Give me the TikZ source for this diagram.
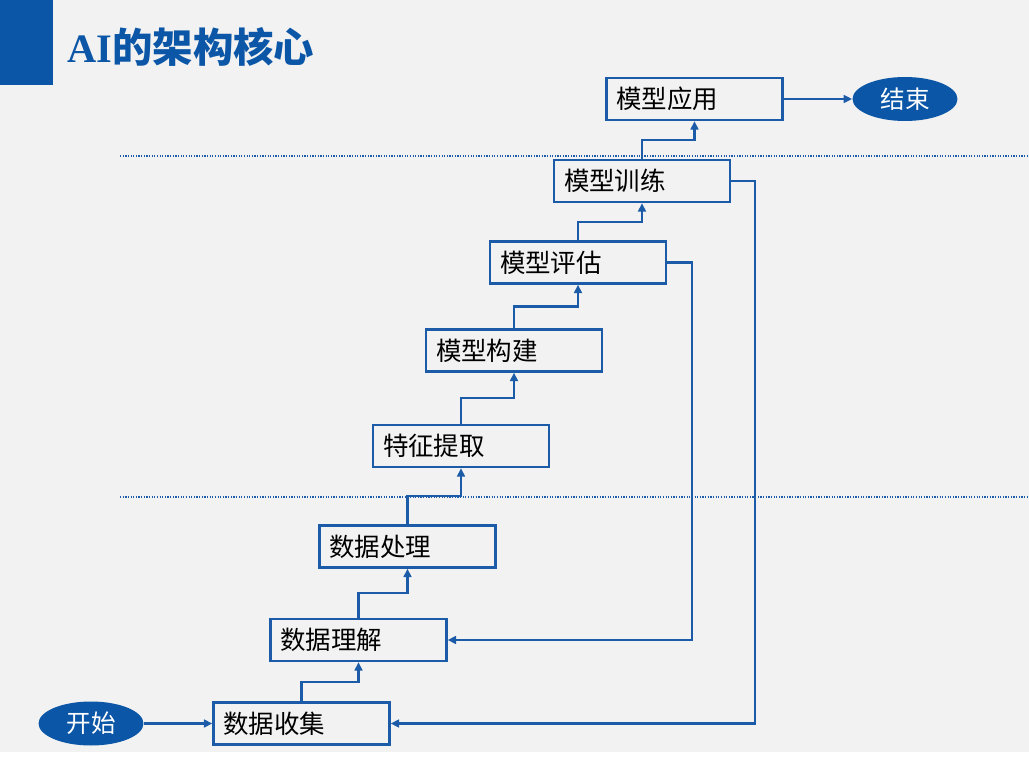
\documentclass[tikz,border=0pt]{standalone}
\usepackage{fontspec}
\usepackage{xcolor}
\newfontfamily\cjk{Noto Sans CJK SC}
\newfontfamily\titleserif{Liberation Serif}
\usetikzlibrary{arrows.meta,shapes.geometric,calc}
\definecolor{deckblue}{HTML}{0B56A6}
\definecolor{lineblue}{HTML}{1C5BA8}
\definecolor{slidebg}{HTML}{F2F2F2}
\tikzset{
  stage/.style={draw=lineblue, line width=1.3pt, minimum width=3.52cm, minimum height=0.84cm,
    text width=3.12cm, inner xsep=0.2cm, align=left, font=\cjk\fontsize{14.5}{16}\selectfont},
  terminal/.style={ellipse, fill=deckblue, minimum width=2.1cm, minimum height=0.88cm, inner sep=0pt,
    text=white, font=\cjk\fontsize{14}{15}\selectfont},
  flow/.style={draw=lineblue, line width=1.2pt, -{Triangle[length=4.8pt,width=4.4pt]}},
  divider/.style={draw=lineblue, line width=0.75pt, dash pattern=on 0.7pt off 0.8pt}
}
\begin{document}
\begin{tikzpicture}[x=0.02cm,y=-0.02cm]

    \fill[slidebg] (0,0) rectangle (1029,752);
    \fill[white] (0,752) rectangle (1029,764);
    \useasboundingbox (0,0) rectangle (1029,764);
    \fill[deckblue] (0,0) rectangle (53,85);
    \node[anchor=base west, inner sep=0pt, text=deckblue] (title) at (67,62)
        {\fontsize{23}{26}\selectfont\bfseries\titleserif AI\cjk 的架构核心};

    \draw[divider] (120,156) -- (1029,156);
    \draw[divider] (120,497) -- (1029,497);

    \node[terminal] (start) at (91,723.5) {开始};
    \node[terminal] (stop) at (905,99) {结束};
    \node[stage] (s1) at (301.5,723.5) {数据收集};
    \node[stage] (s2) at (358.5,640) {数据理解};
    \node[stage] (s3) at (407.5,546.5) {数据处理};
    \node[stage] (s4) at (461,446) {特征提取};
    \node[stage] (s5) at (514,350.5) {模型构建};
    \node[stage] (s6) at (578,262.5) {模型评估};
    \node[stage] (s7) at (642,181) {模型训练};
    \node[stage] (s8) at (694.5,99) {模型应用};
    \coordinate (r1) at (692,0);
    \coordinate (r2) at (755,0);

    \draw[flow] (start) -- (s1);
    \draw[flow] (s8) -- (stop);
    \foreach \a/\b in {s1/s2,s2/s3,s3/s4,s4/s5,s5/s6,s6/s7,s7/s8}
        \draw[flow] (\a.north) |- ($(\a.north)!0.5!(\b.south)$) -| (\b.south);
    \draw[flow] (s6.east) -- (s6.east -| r1) -- (s2.east -| r1) -- (s2.east);
    \draw[flow] (s7.east) -- (s7.east -| r2) -- (s1.east -| r2) -- (s1.east);

\end{tikzpicture}
\end{document}
